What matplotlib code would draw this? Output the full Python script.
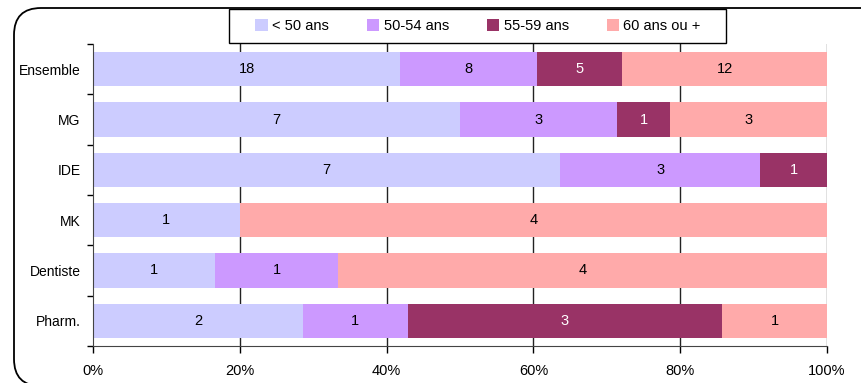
import numpy as np
import matplotlib.pyplot as plt
from matplotlib.patches import FancyBboxPatch, Rectangle
from matplotlib.transforms import IdentityTransform

plt.rcParams['font.family'] = ['Liberation Sans', 'DejaVu Sans']

categories = ['Ensemble', 'MG', 'IDE', 'MK', 'Dentiste', 'Pharm.']
groups = ['< 50 ans', '50-54 ans', '55-59 ans', '60 ans ou +']
moins50 = [18, 7, 7, 1, 1, 2]
de50a54 = [8, 3, 3, 0, 1, 1]
de55a59 = [5, 1, 1, 0, 0, 3]
plus60 = [12, 3, 0, 4, 4, 1]

colors = ['#CCCCFF', '#CC99FF', '#993366', '#FFAAAA']
text_colors = ['black', 'black', 'white', 'black']

counts = np.array([moins50, de50a54, de55a59, plus60], dtype=float)
totals = counts.sum(axis=0)
shares = counts / totals

W, H = 861, 383
fs = 10.5
fig = plt.figure(figsize=(W / 100, H / 100), dpi=100)

# rounded outer frame (pixel units), running off the right and bottom edges
frame = FancyBboxPatch((14, -3), 900, H - 8 + 3,
                       boxstyle='round,pad=0,rounding_size=27',
                       transform=IdentityTransform(), fill=False,
                       edgecolor='black', linewidth=1.3)
fig.patches.append(frame)

ax = fig.add_axes([93 / W, (H - 346) / H, (827 - 93) / W, 302 / H])

y = np.arange(len(categories))
left = np.zeros(len(categories))
for i in range(4):
    bars = ax.barh(y, shares[i], left=left, height=0.68, color=colors[i],
                   label=groups[i], zorder=2)
    for j, b in enumerate(bars):
        if counts[i, j] > 0:
            ax.text(left[j] + shares[i, j] / 2, y[j], '%d' % counts[i, j],
                    ha='center', va='center', fontsize=fs,
                    color=text_colors[i], zorder=3)
    left += shares[i]

ax.set_xlim(0, 1)
ax.set_ylim(len(categories) - 0.5, -0.5)
ax.set_xticks(np.linspace(0, 1, 6))
ax.set_xticklabels(['%d%%' % v for v in range(0, 101, 20)], fontsize=fs)
ax.set_yticks(y)
ax.set_yticklabels(categories, fontsize=10)
ax.tick_params(axis='y', length=0, pad=9)
ax.set_yticks(np.arange(-0.5, len(categories), 1), minor=True)
ax.tick_params(axis='y', which='minor', length=4, width=1, direction='out')
ax.tick_params(axis='x', length=5, width=1, direction='out', pad=8)

for xv in [0.2, 0.4, 0.6, 0.8]:
    ax.axvline(xv, color='#222222', linewidth=1, zorder=1)
ax.axvline(1.0, color='#666666', linewidth=1, zorder=1)

for s in ['top', 'right']:
    ax.spines[s].set_visible(False)
ax.spines['left'].set_color('#444444')
ax.spines['bottom'].set_color('#444444')

# legend box along the top
fig.patches.append(Rectangle((229 / W, (H - 43) / H), 497 / W, 34 / H,
                             transform=fig.transFigure, facecolor='white',
                             edgecolor='black', linewidth=1, zorder=5))
leg = fig.legend(loc='center', bbox_to_anchor=(478 / W, (H - 26) / H),
                 ncol=4, frameon=False, fontsize=fs, handlelength=0.85,
                 handleheight=0.85, handletextpad=0.3, columnspacing=2.6,
                 borderpad=0)
leg.set_zorder(6)

fig.savefig('out.png', dpi=100)
